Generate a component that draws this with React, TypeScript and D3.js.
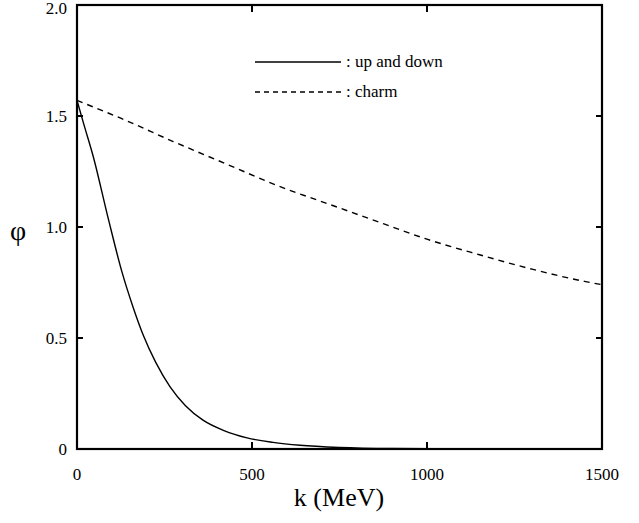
import React from 'react';
import * as d3 from 'd3';

// up and down quark curve (k in MeV, phi)
const udK = [0, 20, 46, 89, 128, 160, 190, 225, 266, 310, 360, 420, 486, 560, 637, 750, 900, 1100, 1300, 1500];
const udPhi = [1.57, 1.46, 1.32, 1.04, 0.80, 0.64, 0.51, 0.39, 0.28, 0.195, 0.13, 0.083, 0.05, 0.03, 0.017, 0.007, 0.002, 0.0005, 0, 0];

// charm curve
const charmK = [0, 125, 275, 425, 575, 725, 875, 1000, 1150, 1300, 1450, 1500];
const charmPhi = [1.57, 1.49, 1.385, 1.285, 1.185, 1.10, 1.015, 0.945, 0.875, 0.81, 0.755, 0.74];

const xTicks = [0, 500, 1000, 1500];
const yTicks = [0, 0.5, 1.0, 1.5, 2.0];
const yTickLabels = ['0', '0.5', '1.0', '1.5', '2.0'];

const W = 639;
const H = 523;
const left = 77, right = 602, top = 5, bottom = 449;

export default function App() {
  const x = d3.scaleLinear().domain([0, 1500]).range([left, right]);
  const y = d3.scaleLinear().domain([0, 2]).range([bottom, top]);

  const line = d3.line<[number, number]>()
    .curve(d3.curveMonotoneX)
    .x(d => x(d[0]))
    .y(d => y(d[1]));

  const udPts = udK.map((k, i) => [k, udPhi[i]] as [number, number]);
  const charmPts = charmK.map((k, i) => [k, charmPhi[i]] as [number, number]);

  const font = 'Liberation Serif, serif';

  return (
    <div style={{ position: 'absolute', left: 0, top: 0 }}>
      <svg width={W} height={H} style={{ display: 'block', background: '#fff' }}>
        {/* curves */}
        <path d={line(udPts) ?? ''} fill="none" stroke="#000" strokeWidth={1.4} />
        <path d={line(charmPts) ?? ''} fill="none" stroke="#000" strokeWidth={1.4} strokeDasharray="6,5" />

        {/* frame */}
        <rect x={left} y={top} width={right - left} height={bottom - top} fill="none" stroke="#000" strokeWidth={2.2} />

        {/* y ticks, inward on both sides */}
        {yTicks.slice(1, -1).map(t => (
          <g key={'yt' + t}>
            <line x1={left} x2={left + 6} y1={y(t)} y2={y(t)} stroke="#000" strokeWidth={2} />
            <line x1={right} x2={right - 6} y1={y(t)} y2={y(t)} stroke="#000" strokeWidth={2} />
          </g>
        ))}
        {yTicks.map((t, i) => (
          <text key={'yl' + t} x={67} y={y(t) + (i === yTicks.length - 1 ? 9 : 6)} textAnchor="end"
            fontFamily={font} fontSize={17}>{yTickLabels[i]}</text>
        ))}

        {/* x ticks */}
        {xTicks.slice(1, -1).map(t => (
          <g key={'xt' + t}>
            <line x1={x(t)} x2={x(t)} y1={bottom} y2={bottom - 7} stroke="#000" strokeWidth={2} />
            <line x1={x(t)} x2={x(t)} y1={top} y2={top + 7} stroke="#000" strokeWidth={2} />
          </g>
        ))}
        {xTicks.map(t => (
          <text key={'xl' + t} x={x(t)} y={480} textAnchor="middle" fontFamily={font} fontSize={17}>{t}</text>
        ))}

        {/* axis titles */}
        <text x={339} y={506} textAnchor="middle" fontFamily={font} fontSize={26}>k (MeV)</text>
        <text x={18} y={240} textAnchor="middle" fontFamily={font} fontSize={28}>φ</text>

        {/* legend */}
        <line x1={255} x2={341} y1={62} y2={62} stroke="#000" strokeWidth={1.4} />
        <text x={346} y={67} fontFamily={font} fontSize={17}>: up and down</text>
        <line x1={255} x2={341} y1={92} y2={92} stroke="#000" strokeWidth={1.4} strokeDasharray="5,4" />
        <text x={346} y={97} fontFamily={font} fontSize={17}>: charm</text>
      </svg>
    </div>
  );
}
